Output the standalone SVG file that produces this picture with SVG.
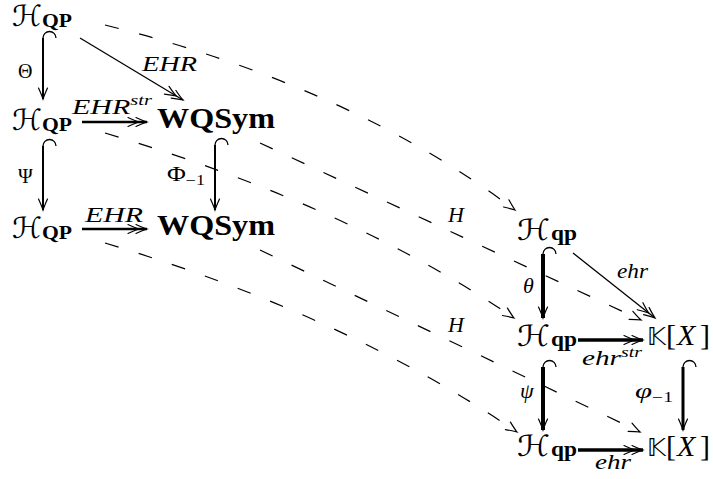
<svg xmlns="http://www.w3.org/2000/svg" width="713" height="479" viewBox="0 0 713 479">
<defs>
<marker id="h1" markerUnits="userSpaceOnUse" markerWidth="24" markerHeight="14" viewBox="-22 -7 24 14" refX="0" refY="0" orient="auto" overflow="visible">
<path d="M-11,-4.5 Q-4,-1.3 0,0 Q-4,1.3 -11,4.5" fill="none" stroke="#000" stroke-width="1.2" stroke-linecap="round"/>
</marker>
<marker id="h2" markerUnits="userSpaceOnUse" markerWidth="30" markerHeight="14" viewBox="-28 -7 30 14" refX="0" refY="0" orient="auto" overflow="visible">
<path d="M-11,-4.5 Q-4,-1.3 0,0 Q-4,1.3 -11,4.5 M-19,-4.5 Q-12,-1.3 -8,0 Q-12,1.3 -19,4.5" fill="none" stroke="#000" stroke-width="1.2" stroke-linecap="round"/>
</marker>
</defs>
<style>
.ar{fill:none;stroke:#000}
.d{stroke-dasharray:14 21;stroke-width:1.2;marker-end:url(#h1)}
.hk{fill:none;stroke:#000;stroke-width:1.3}
.lab{font-family:"Liberation Serif",serif;font-style:italic;font-size:22px}
.up{font-family:"Liberation Serif",serif;font-size:20px}
.cal{font-family:"DejaVu Sans",sans-serif;font-size:29px}
.bf{font-family:"Liberation Serif",serif;font-weight:bold}
.bb{font-family:"DejaVu Sans",sans-serif;font-size:25px}
.kx{font-family:"Liberation Serif",serif;font-size:30px}
</style>
<g id="connectors">
<path class="ar d" d="M105,25 Q350,86 515,210"/>
<path class="ar d" d="M105,133 Q350,206 514,318"/>
<path class="ar d" d="M105,243 Q345,315 517,432"/>
<path class="ar d" d="M260,143 L641,320"/>
<path class="ar d" d="M260,250 L640,432"/>
<text class="lab" x="448" y="222">H</text>
<text class="lab" x="448" y="332">H</text>

<path class="ar" d="M80,38 L183,100" stroke-width="1.3" marker-end="url(#h2)"/>
<text class="lab" x="142" y="71" textLength="55" lengthAdjust="spacingAndGlyphs">EHR</text>

<path class="hk" d="M56,38 A6.5,6.5 0 0 0 43,38"/>
<path class="ar" d="M43,38 L43,99" stroke-width="2" marker-end="url(#h1)"/>
<text class="up" x="18" y="78">Θ</text>

<path class="ar" d="M82,122 L147,122" stroke-width="2.3" marker-end="url(#h2)"/>
<text class="lab" x="72" y="114" textLength="80" lengthAdjust="spacingAndGlyphs">EHR<tspan dy="-9" font-size="15">str</tspan></text>

<path class="hk" d="M56,146 A6.5,6.5 0 0 0 43,146"/>
<path class="ar" d="M43,146 L43,210" stroke-width="2" marker-end="url(#h1)"/>
<text class="up" x="18" y="183">Ψ</text>

<path class="hk" d="M228,145 A6.5,6.5 0 0 0 215,145"/>
<path class="ar" d="M215,145 L215,210" stroke-width="2" marker-end="url(#h1)"/>
<text class="up" x="167" y="181" textLength="38" lengthAdjust="spacingAndGlyphs">Φ<tspan dy="4" font-size="14">−1</tspan></text>

<path class="ar" d="M82,229 L147,229" stroke-width="2.3" marker-end="url(#h2)"/>
<text class="lab" x="85" y="222" textLength="58" lengthAdjust="spacingAndGlyphs">EHR</text>

<path class="ar" d="M573,253 L655,318" stroke-width="1.3" marker-end="url(#h2)"/>
<text class="lab" x="617" y="278" textLength="31" lengthAdjust="spacingAndGlyphs">ehr</text>

<path class="hk" d="M556,254 A6.5,6.5 0 0 0 543,254"/>
<path class="ar" d="M543,254 L543,318" stroke-width="4" marker-end="url(#h1)"/>
<text class="lab" x="523" y="293">θ</text>

<path class="ar" d="M578,340 L643,340" stroke-width="3.5" marker-end="url(#h2)"/>
<text class="lab" x="582" y="365" textLength="60" lengthAdjust="spacingAndGlyphs">ehr<tspan dy="-8" font-size="15">str</tspan></text>

<path class="hk" d="M556,367 A6.5,6.5 0 0 0 543,367"/>
<path class="ar" d="M543,367 L543,430" stroke-width="4" marker-end="url(#h1)"/>
<text class="lab" x="520" y="398">ψ</text>

<path class="hk" d="M696,367 A6.5,6.5 0 0 0 683,367"/>
<path class="ar" d="M683,367 L683,430" stroke-width="3" marker-end="url(#h1)"/>
<text class="lab" x="635" y="398" textLength="38" lengthAdjust="spacingAndGlyphs">φ<tspan dy="4" font-size="14" font-style="normal">−1</tspan></text>

<path class="ar" d="M578,450 L643,450" stroke-width="3.5" marker-end="url(#h2)"/>
<text class="lab" x="595" y="469" textLength="36" lengthAdjust="spacingAndGlyphs">ehr</text>
</g>

<g id="HQP1"><text class="cal" x="12" y="26" textLength="30" lengthAdjust="spacingAndGlyphs">ℋ</text><text class="bf" x="42" y="27" font-size="18" textLength="30" lengthAdjust="spacingAndGlyphs">QP</text></g>
<g id="HQP2"><text class="cal" x="12" y="130" textLength="30" lengthAdjust="spacingAndGlyphs">ℋ</text><text class="bf" x="42" y="131" font-size="18" textLength="30" lengthAdjust="spacingAndGlyphs">QP</text></g>
<g id="HQP3"><text class="cal" x="12" y="238" textLength="30" lengthAdjust="spacingAndGlyphs">ℋ</text><text class="bf" x="42" y="239" font-size="18" textLength="30" lengthAdjust="spacingAndGlyphs">QP</text></g>
<g id="WQSym2"><text class="bf" x="157" y="128" font-size="29" textLength="118" lengthAdjust="spacingAndGlyphs">WQSym</text></g>
<g id="WQSym3"><text class="bf" x="157" y="235" font-size="29" textLength="118" lengthAdjust="spacingAndGlyphs">WQSym</text></g>
<g id="Hqp1"><text class="cal" x="517" y="240" textLength="33" lengthAdjust="spacingAndGlyphs">ℋ</text><text class="bf" x="551" y="240" font-size="20" textLength="26" lengthAdjust="spacingAndGlyphs">qp</text></g>
<g id="Hqp2"><text class="cal" x="517" y="346" textLength="33" lengthAdjust="spacingAndGlyphs">ℋ</text><text class="bf" x="551" y="346" font-size="20" textLength="26" lengthAdjust="spacingAndGlyphs">qp</text></g>
<g id="Hqp3"><text class="cal" x="517" y="456" textLength="33" lengthAdjust="spacingAndGlyphs">ℋ</text><text class="bf" x="551" y="456" font-size="20" textLength="26" lengthAdjust="spacingAndGlyphs">qp</text></g>
<g id="KX2"><text class="kx" y="345"><tspan class="bb" x="647">𝕂</tspan><tspan x="666">[</tspan><tspan x="677" font-style="italic">X</tspan><tspan x="700">]</tspan></text></g>
<g id="KX3"><text class="kx" y="456"><tspan class="bb" x="647">𝕂</tspan><tspan x="666">[</tspan><tspan x="677" font-style="italic">X</tspan><tspan x="700">]</tspan></text></g>
</svg>
